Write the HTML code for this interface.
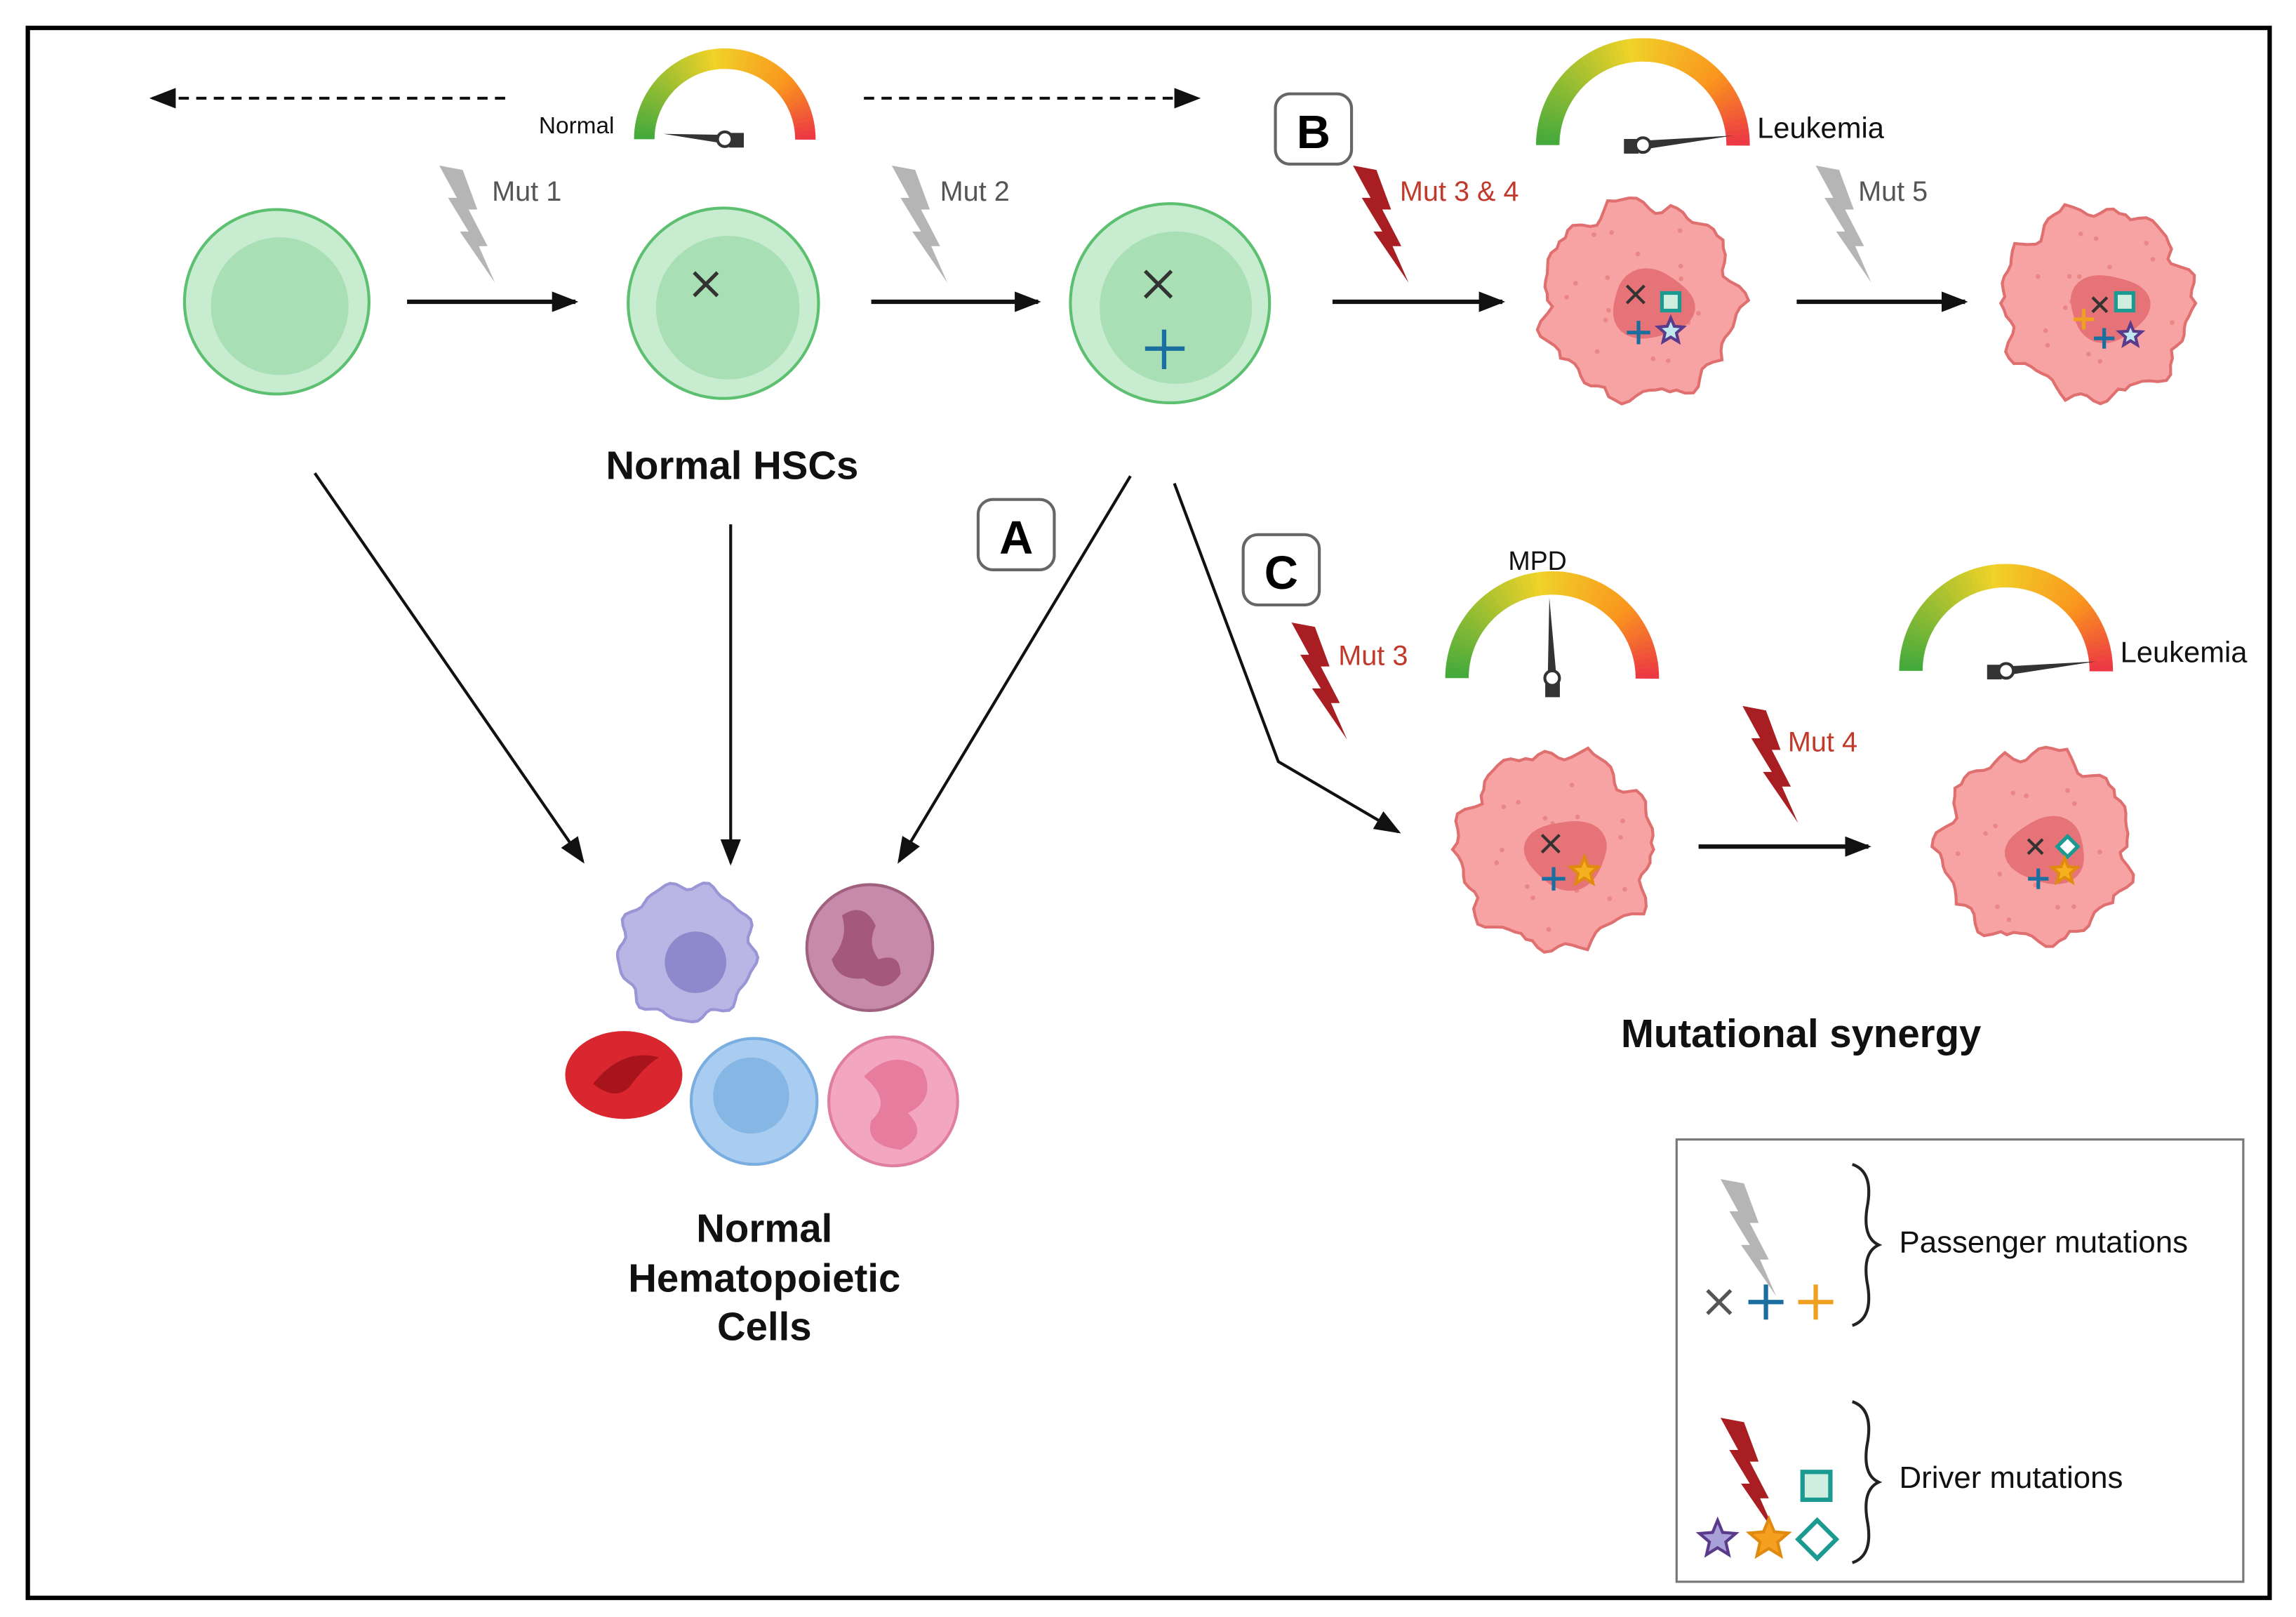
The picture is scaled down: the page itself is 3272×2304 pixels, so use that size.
<!DOCTYPE html>
<html><head><meta charset="utf-8"><style>
html,body{margin:0;padding:0;background:#fff;width:3272px;height:2304px;overflow:hidden}
svg{display:block}
text{font-family:"Liberation Sans",sans-serif}
</style></head><body>
<svg id="s" width="3272" height="2304" viewBox="0 0 1568 1104" xmlns="http://www.w3.org/2000/svg">
<defs>
<marker id="ah2" markerWidth="18" markerHeight="14" refX="16" refY="7" orient="auto" markerUnits="userSpaceOnUse"><path d="M0,0 L18,7 L0,14 z" fill="#111"/></marker>
<g id="bolt"><polygon points="0,0 16,3 26,30 20,30 33,55 27,55 38,80 14,45 20,45 6,22 12,22"/></g>
</defs>
<rect x="19" y="19" width="1531" height="1072" fill="#fff" stroke="#000" stroke-width="3"/>
<rect x="1145" y="778" width="387" height="302" fill="#fff" stroke="#777" stroke-width="1.5"/>

<line x1="345" y1="67" x2="104" y2="67" stroke="#111" stroke-width="2" stroke-dasharray="7,5" marker-end="url(#ah2)"/>
<line x1="590" y1="67" x2="818" y2="67" stroke="#111" stroke-width="2" stroke-dasharray="7,5" marker-end="url(#ah2)"/>

<g id="gauges"></g>
<text x="368" y="91" font-size="16" fill="#111">Normal</text>
<text x="1200" y="94" font-size="20" fill="#111">Leukemia</text>
<text x="1030" y="389" font-size="18" fill="#111">MPD</text>
<text x="1448" y="452" font-size="20" fill="#111">Leukemia</text>

<use href="#bolt" x="300" y="113" fill="#b5b5b5"/>
<use href="#bolt" x="609" y="113" fill="#b5b5b5"/>
<use href="#bolt" x="924" y="113" fill="#a91e22"/>
<use href="#bolt" x="1240" y="113" fill="#b5b5b5"/>
<use href="#bolt" x="882" y="425" fill="#a91e22"/>
<use href="#bolt" x="1190" y="482" fill="#a91e22"/>
<use href="#bolt" x="1175" y="805" fill="#b5b5b5"/>
<use href="#bolt" x="1175" y="968" fill="#a91e22"/>
<text x="336" y="137" font-size="19" fill="#555">Mut 1</text>
<text x="642" y="137" font-size="19" fill="#555">Mut 2</text>
<text x="956" y="137" font-size="19" fill="#c0392b">Mut 3 &amp; 4</text>
<text x="1269" y="137" font-size="19" fill="#555">Mut 5</text>
<text x="914" y="454" font-size="19" fill="#c0392b">Mut 3</text>
<text x="1221" y="513" font-size="19" fill="#c0392b">Mut 4</text>

<circle cx="189" cy="206" r="63" fill="#c8ecd0" stroke="#5cc070" stroke-width="2"/>
<circle cx="191" cy="209" r="47" fill="#a8dfb4"/>
<circle cx="494" cy="207" r="65" fill="#c8ecd0" stroke="#5cc070" stroke-width="2"/>
<circle cx="497" cy="210" r="49" fill="#a8dfb4"/>
<path d="M474,186 L490,202 M490,186 L474,202" stroke="#333" stroke-width="2.5"/>
<circle cx="799" cy="207" r="68" fill="#c8ecd0" stroke="#5cc070" stroke-width="2"/>
<circle cx="803" cy="210" r="52" fill="#a8dfb4"/>
<path d="M782,185 L800,203 M800,185 L782,203" stroke="#333" stroke-width="2.5"/>
<path d="M795,225 L795,252 M782,238 L809,238" stroke="#1a6fa0" stroke-width="3"/>

<g stroke="#111" stroke-width="3" marker-end="url(#ah2)">
<line x1="278" y1="206" x2="393" y2="206"/>
<line x1="595" y1="206" x2="709" y2="206"/>
<line x1="910" y1="206" x2="1026" y2="206"/>
<line x1="1227" y1="206" x2="1342" y2="206"/>
<line x1="1160" y1="578" x2="1276" y2="578"/>
</g>
<g stroke="#111" stroke-width="2" fill="none" marker-end="url(#ah2)">
<line x1="215" y1="323" x2="398" y2="588"/>
<line x1="499" y1="358" x2="499" y2="589"/>
<line x1="772" y1="325" x2="614" y2="588"/>
<polyline points="802,330 873,520 955,568"/>
</g>

<g id="blobs"></g>

<text x="500" y="327" font-size="27" font-weight="bold" text-anchor="middle" fill="#111">Normal HSCs</text>
<text x="1230" y="715" font-size="27" font-weight="bold" text-anchor="middle" fill="#111">Mutational synergy</text>
<text x="522" y="848" font-size="27" font-weight="bold" text-anchor="middle" fill="#111">Normal</text>
<text x="522" y="882" font-size="27" font-weight="bold" text-anchor="middle" fill="#111">Hematopoietic</text>
<text x="522" y="915" font-size="27" font-weight="bold" text-anchor="middle" fill="#111">Cells</text>

<g fill="#fff" stroke="#666" stroke-width="2">
<rect x="871" y="64" width="52" height="48" rx="10"/>
<rect x="668" y="341" width="52" height="48" rx="10"/>
<rect x="849" y="365" width="52" height="48" rx="10"/>
</g>
<text x="897" y="101" font-size="32" font-weight="bold" text-anchor="middle">B</text>
<text x="694" y="378" font-size="32" font-weight="bold" text-anchor="middle">A</text>
<text x="875" y="402" font-size="32" font-weight="bold" text-anchor="middle">C</text>

<g id="hema">
<circle cx="515" cy="752" r="43" fill="#a9cdf0" stroke="#7aaee0" stroke-width="2"/>
<circle cx="513" cy="748" r="26" fill="#86b6e4"/>
<ellipse cx="426" cy="734" rx="40" ry="30" fill="#d9262f"/>
<path d="M405,740 Q425,715 450,722 Q440,728 430,742 Q420,752 405,740z" fill="#a8141c"/>
<circle cx="594" cy="647" r="43" fill="#c88aaa" stroke="#a0607f" stroke-width="2"/>
<path d="M575,625 Q590,615 598,632 Q592,645 600,655 Q615,650 615,665 Q605,680 590,668 Q572,670 568,655 Q580,640 575,625z" fill="#a4587c"/>
<circle cx="610" cy="752" r="44" fill="#f3a6c0" stroke="#e07ea0" stroke-width="2"/>
<path d="M590,735 Q610,715 630,730 Q640,750 620,760 Q635,775 615,785 Q590,782 595,765 Q610,752 590,735z" fill="#e67c9e"/>
</g>

<path d="M1265,795 Q1280,800 1275,825 Q1272,845 1283,850 Q1272,855 1275,875 Q1280,900 1265,905" stroke="#222" stroke-width="2" fill="none"/>
<path d="M1265,957 Q1280,962 1275,987 Q1272,1007 1283,1012 Q1272,1017 1275,1037 Q1280,1062 1265,1067" stroke="#222" stroke-width="2" fill="none"/>
<text x="1297" y="855" font-size="21" fill="#111">Passenger mutations</text>
<text x="1297" y="1016" font-size="21" fill="#111">Driver mutations</text>
<path d="M1166,881 L1182,897 M1182,881 L1166,897" stroke="#555" stroke-width="2.5"/>
<path d="M1206,877 L1206,901 M1194,889 L1218,889" stroke="#1a6fa0" stroke-width="3"/>
<path d="M1240,877 L1240,901 M1228,889 L1252,889" stroke="#f0a020" stroke-width="3"/>
<rect x="1231" y="1005" width="19" height="19" fill="#cfeee0" stroke="#1a9a90" stroke-width="3"/>
<polygon points="1241,1038 1254,1051 1241,1064 1228,1051" fill="#fff" stroke="#1a9a90" stroke-width="3"/>
<g id="stars"></g>
</svg>
<script>
var NS="http://www.w3.org/2000/svg";
function el(t,a,p){var e=document.createElementNS(NS,t);for(var k in a)e.setAttribute(k,a[k]);(p||document.getElementById('s')).appendChild(e);return e;}
function lerp(a,b,t){return a.map((v,i)=>Math.round(v+(b[i]-v)*t));}
function col(t){var g=[68,170,60],y=[240,210,40],o=[250,150,30],r=[235,50,70];
 if(t<.45)return lerp(g,y,t/.45);if(t<.75)return lerp(y,o,(t-.45)/.3);return lerp(o,r,(t-.75)/.25);}
var G=document.getElementById('gauges');
function gauge(cx,cy,r,w,needleAng,len){
 var n=60;for(var i=0;i<n;i++){var a1=Math.PI*(1-i/n),a2=Math.PI*(1-(i+1.1)/n);
  var c=col(i/n);
  el('path',{d:`M${cx+r*Math.cos(a1)},${cy-r*Math.sin(a1)} A${r},${r} 0 0 1 ${cx+r*Math.cos(a2)},${cy-r*Math.sin(a2)}`,stroke:`rgb(${c})`,'stroke-width':w,fill:'none'},G);}
 var a=needleAng*Math.PI/180;var ex=cx+len*Math.cos(a),ey=cy-len*Math.sin(a);
 var px=-Math.sin(a)*3,py=-Math.cos(a)*3;
 el('polygon',{points:`${cx+px},${cy+py} ${ex},${ey} ${cx-px},${cy-py}`,fill:'#333'},G);
 el('rect',{x:cx-5-8*Math.cos(a),y:cy-5+8*Math.sin(a),width:10,height:10,fill:'#333'},G);
 el('circle',{cx:cx,cy:cy,r:5,fill:'#fff',stroke:'#333','stroke-width':2},G);
}
gauge(495,95,55,14,175,42);
gauge(1122,99,65,16,6,62);
gauge(1060,463,65,16,92,55);
gauge(1370,458,65,16,6,62);
var B=document.getElementById('blobs');
function blob(cx,cy,R,seed){
 var pts=[],n=90;for(var i=0;i<n;i++){var a=i/n*2*Math.PI;
  var r=R*(1+0.05*Math.sin(a*7+seed)+0.04*Math.sin(a*11+seed*2)+0.03*Math.sin(a*17+seed*3)+(i%9==0?0.04:0));
  pts.push((cx+r*Math.cos(a)).toFixed(1)+','+(cy+r*Math.sin(a)).toFixed(1));}
 el('polygon',{points:pts.join(' '),fill:'#f7a3a3',stroke:'#e07070','stroke-width':2},B);
 for(var k=0;k<22;k++){var a=k*2.4+seed,d=R*(0.2+0.7*((k*37)%10)/10);
  el('circle',{cx:cx+d*Math.cos(a),cy:cy+d*Math.sin(a),r:1.6,fill:'#ea8686'},B);}
 var q=[];for(var i=0;i<40;i++){var a=i/40*2*Math.PI,r=R*0.42*(1+0.08*Math.sin(a*3+seed));
  q.push((cx+8+r*Math.cos(a)).toFixed(1)+','+(cy+3+r*Math.sin(a)*0.85).toFixed(1));}
 el('polygon',{points:q.join(' '),fill:'#e57378'},B);
}
function X(x,y,s,c){el('path',{d:`M${x-s},${y-s}L${x+s},${y+s}M${x+s},${y-s}L${x-s},${y+s}`,stroke:c,'stroke-width':2},B);}
function P(x,y,s,c){el('path',{d:`M${x},${y-s}L${x},${y+s}M${x-s},${y}L${x+s},${y}`,stroke:c,'stroke-width':2.5},B);}
function star(x,y,r,fill,stroke,p){var s=[];for(var i=0;i<10;i++){var a=-Math.PI/2+i*Math.PI/5,rr=i%2?r*0.45:r;s.push((x+rr*Math.cos(a)).toFixed(1)+','+(y+rr*Math.sin(a)).toFixed(1));}
 el('polygon',{points:s.join(' '),fill:fill,stroke:stroke,'stroke-width':2},p||B);}
function sq(x,y,s){el('rect',{x:x-s,y:y-s,width:2*s,height:2*s,fill:'#cfeee0',stroke:'#1a9a90','stroke-width':2.5},B);}
function dia(x,y,s){el('polygon',{points:`${x},${y-s} ${x+s},${y} ${x},${y+s} ${x-s},${y}`,fill:'#fff',stroke:'#1a9a90','stroke-width':2.5},B);}
blob(1120,205,66,1);X(1117,201,6,'#333');sq(1141,206,6);P(1119,227,8,'#1a6fa0');star(1141,226,9,'#bfe8ee','#5a3a8a');
blob(1432,207,64,2.3);X(1434,208,5,'#333');sq(1451,206,6);P(1423,218,7,'#f0a020');P(1437,231,7,'#1a6fa0');star(1455,229,8,'#bfe8ee','#5a3a8a');
blob(1062,580,66,3.7);X(1059,576,6,'#333');P(1061,600,8,'#1a6fa0');star(1082,595,10,'#f5b020','#e08a10');
blob(1390,578,64,5.1);X(1390,578,5,'#333');dia(1412,578,7);P(1392,600,7,'#1a6fa0');star(1410,595,9,'#f5b020','#e08a10');
// monocyte
var H=document.getElementById('hema');
(function(){var cx=469,cy=650,R=46,pts=[];for(var i=0;i<80;i++){var a=i/80*2*Math.PI;var r=R*(1+0.05*Math.sin(a*9)+0.03*Math.sin(a*14+1));pts.push((cx+r*Math.cos(a)).toFixed(1)+','+(cy+r*Math.sin(a)).toFixed(1));}
el('polygon',{points:pts.join(' '),fill:'#b9b6e6',stroke:'#9a96d6','stroke-width':2},H);
el('circle',{cx:475,cy:657,r:21,fill:'#8d89cc'},H);})();
var S=document.getElementById('stars');
star(1173,1051,13,'#a9a0d8','#5a3a8a',S);star(1208,1051,14,'#f5a020','#e08a10',S);
</script>
</body></html>
